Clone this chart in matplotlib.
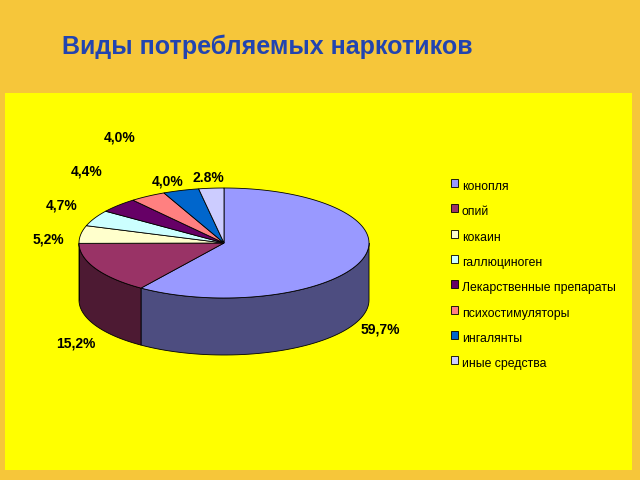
import numpy as np
import matplotlib.pyplot as plt
from matplotlib.patches import Polygon, Rectangle
from matplotlib.colors import to_rgb

plt.rcParams['font.family'] = ['Liberation Sans Narrow', 'Liberation Sans', 'DejaVu Sans']

categories = ['конопля', 'опий', 'кокаин', 'галлюциноген', 'Лекарственные препараты',
              'психостимуляторы', 'ингалянты', 'иные средства']
values = [59.7, 15.2, 5.2, 4.7, 4.4, 4.0, 4.0, 2.8]
labels = ['59,7%', '15,2%', '5,2%', '4,7%', '4,4%', '4,0%', '4,0%', '2.8%']
colors = ['#9999FF', '#993366', '#FFFFCC', '#CCFFFF', '#660066', '#FF8080', '#0066CC', '#CCCCFF']
label_pos = [(380, 330), (76, 344), (48, 240), (62, 206), (87, 172), (120, 137), (168, 181), (208, 178)]

fig = plt.figure(figsize=(6.4, 4.8), dpi=100)
fig.patch.set_facecolor('#F6C63A')
ax = fig.add_axes([0, 0, 1, 1])
ax.set_xlim(0, 640)
ax.set_ylim(480, 0)
ax.axis('off')
ax.add_patch(Rectangle((5, 93), 627, 377, facecolor='#FFFF00', edgecolor='none'))
ax.text(62, 47, 'Виды потребляемых наркотиков', color='#2244B0', fontsize=18,
        fontweight='bold', family=['Liberation Sans', 'DejaVu Sans'], va='center')

cx, cy, rx, ry, depth = 224, 243, 145, 55, 57


def pt(t):
    return cx + rx * np.cos(t), cy - ry * np.sin(t)


def darker(c, f=0.5):
    return tuple(v * f for v in to_rgb(c))


cum = np.cumsum([0] + values)
tops = []
for i, v in enumerate(values):
    a0 = np.deg2rad(90 - cum[i + 1] * 3.6)
    a1 = np.deg2rad(90 - cum[i] * 3.6)
    tops.append((a0, a1))
    for lo, hi in [(-np.pi, 0), (np.pi, 2 * np.pi), (-3 * np.pi, -2 * np.pi)]:
        s, e = max(a0, lo), min(a1, hi)
        if e > s:
            ts = np.linspace(s, e, 60)
            x, y = pt(ts)
            poly = np.vstack([np.column_stack([x, y]), np.column_stack([x[::-1], y[::-1] + depth])])
            ax.add_patch(Polygon(poly, facecolor=darker(colors[i]), edgecolor='black', lw=0.6))

for i, (a0, a1) in enumerate(tops):
    ts = np.linspace(a0, a1, 100)
    x, y = pt(ts)
    poly = np.vstack([[cx, cy], np.column_stack([x, y])])
    ax.add_patch(Polygon(poly, facecolor=colors[i], edgecolor='black', lw=0.6))

for (lx, ly), lab in zip(label_pos, labels):
    ax.text(lx, ly, lab, fontsize=10, fontweight='bold', ha='center', va='center')

for i, cat in enumerate(categories):
    y = 184 + i * 25.3
    ax.add_patch(Rectangle((451, y - 5), 7, 8, facecolor=colors[i], edgecolor='black', lw=0.6))
    ax.text(462, y + 3, cat, fontsize=8.8, va='center')

fig.savefig('out.png', dpi=100, facecolor=fig.get_facecolor())
